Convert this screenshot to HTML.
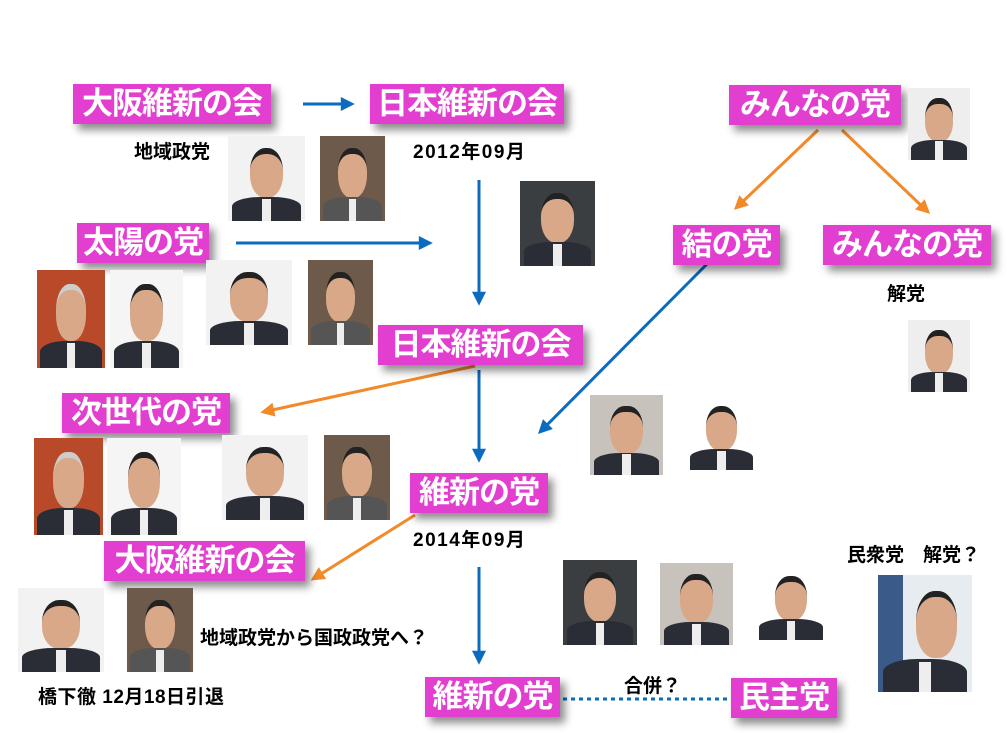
<!DOCTYPE html>
<html><head><meta charset="utf-8"><style>
body{margin:0;width:1008px;height:733px;background:#fff;position:relative;overflow:hidden;font-family:"Liberation Sans","Noto Sans CJK JP",sans-serif}
.l{position:absolute;background:#e23fd0;color:#fff;font-weight:bold;font-size:31px;line-height:40px;height:40px;text-align:center;box-shadow:5px 6px 8px rgba(0,0,0,.45);white-space:nowrap;letter-spacing:-1px}
.t{position:absolute;font-weight:bold;font-size:19px;color:#000;white-space:nowrap}
.p{position:absolute;overflow:hidden;background:#d8d4d0}
.p .h{position:absolute;left:28%;top:14%;width:44%;height:52%;border-radius:45%;background:#d9a888;border-top:6px solid #222}
.p .s{position:absolute;left:5%;right:5%;bottom:0;height:28%;border-radius:40% 40% 0 0;background:#2a2c36}
.p .c{position:absolute;left:44%;width:12%;bottom:0;height:26%;background:#eee}
svg{position:absolute;left:0;top:0}
</style></head><body>
<svg width="1008" height="733">
<defs>
<marker id="bb" viewBox="0 0 10 10" refX="8" refY="5" markerWidth="16" markerHeight="14" orient="auto" markerUnits="userSpaceOnUse"><path d="M0,0L10,5L0,10z" fill="#0a6bbf"/></marker>
<marker id="oo" viewBox="0 0 10 10" refX="8" refY="5" markerWidth="16" markerHeight="14" orient="auto" markerUnits="userSpaceOnUse"><path d="M0,0L10,5L0,10z" fill="#f28a2a"/></marker>
</defs>
<g stroke="#0a6bbf" stroke-width="3" fill="none">
<line x1="303" y1="104" x2="352" y2="104" marker-end="url(#bb)"/>
<line x1="236" y1="243" x2="430" y2="243" marker-end="url(#bb)"/>
<line x1="479" y1="180" x2="479" y2="303" marker-end="url(#bb)"/>
<line x1="479" y1="370" x2="479" y2="460" marker-end="url(#bb)"/>
<line x1="479" y1="567" x2="479" y2="662" marker-end="url(#bb)"/>
<line x1="708" y1="263" x2="540" y2="432" marker-end="url(#bb)"/>
<line x1="563" y1="699" x2="730" y2="699" stroke-dasharray="4,4"/>
</g>
<g stroke="#f28a2a" stroke-width="3" fill="none">
<line x1="818" y1="130" x2="736" y2="208" marker-end="url(#oo)"/>
<line x1="842" y1="130" x2="928" y2="212" marker-end="url(#oo)"/>
<line x1="475" y1="366" x2="263" y2="412" marker-end="url(#oo)"/>
<line x1="415" y1="515" x2="313" y2="579" marker-end="url(#oo)"/>
</g>
</svg>
<div class="l" style="left:73px;top:84px;width:198px">大阪維新の会</div>
<div class="l" style="left:370px;top:84px;width:194px">日本維新の会</div>
<div class="l" style="left:729px;top:85px;width:172px">みんなの党</div>
<div class="l" style="left:77px;top:223px;width:132px">太陽の党</div>
<div class="l" style="left:673px;top:225px;width:107px">結の党</div>
<div class="l" style="left:823px;top:225px;width:168px">みんなの党</div>
<div class="l" style="left:378px;top:325px;width:205px">日本維新の会</div>
<div class="l" style="left:62px;top:393px;width:168px">次世代の党</div>
<div class="l" style="left:410px;top:473px;width:138px">維新の党</div>
<div class="l" style="left:104px;top:541px;width:201px">大阪維新の会</div>
<div class="l" style="left:425px;top:677px;width:135px">維新の党</div>
<div class="l" style="left:731px;top:678px;width:106px">民主党</div>
<div class="t" style="left:134px;top:137px">地域政党</div>
<div class="t" style="left:413px;top:137px;letter-spacing:1.5px">2012年09月</div>
<div class="t" style="left:887px;top:279px">解党</div>
<div class="t" style="left:413px;top:525px;letter-spacing:1.5px">2014年09月</div>
<div class="t" style="left:200px;top:623px">地域政党から国政政党へ？</div>
<div class="t" style="left:38px;top:682px;letter-spacing:0.5px">橋下徹 12月18日引退</div>
<div class="t" style="left:624px;top:671px">合併？</div>
<div class="t" style="left:847px;top:540px">民衆党　解党？</div>

<div class="p" style="left:228px;top:136px;width:77px;height:85px;background:#f2f2f2"><div class="h"></div><div class="s"></div><div class="c"></div></div>
<div class="p" style="left:320px;top:136px;width:65px;height:85px;background:#6d5a4a"><div class="h"></div><div class="s" style="background:#555"></div><div class="c"></div></div>
<div class="p" style="left:520px;top:181px;width:75px;height:85px;background:#3a3e40"><div class="h"></div><div class="s"></div><div class="c"></div></div>
<div class="p" style="left:908px;top:88px;width:62px;height:72px;background:#eee"><div class="h"></div><div class="s"></div><div class="c"></div></div>
<div class="p" style="left:37px;top:270px;width:68px;height:98px;background:#b84a2a"><div class="h" style="border-top-color:#ccc"></div><div class="s"></div><div class="c"></div></div>
<div class="p" style="left:110px;top:270px;width:73px;height:98px;background:#f5f5f5"><div class="h"></div><div class="s"></div><div class="c"></div></div>
<div class="p" style="left:206px;top:260px;width:86px;height:85px;background:#f2f2f2"><div class="h"></div><div class="s"></div><div class="c"></div></div>
<div class="p" style="left:308px;top:260px;width:65px;height:85px;background:#6d5a4a"><div class="h"></div><div class="s" style="background:#555"></div><div class="c"></div></div>
<div class="p" style="left:908px;top:320px;width:62px;height:72px;background:#eee"><div class="h"></div><div class="s"></div><div class="c"></div></div>
<div class="p" style="left:590px;top:395px;width:73px;height:80px;background:#c8c2bc"><div class="h"></div><div class="s"></div><div class="c"></div></div>
<div class="p" style="left:686px;top:395px;width:71px;height:75px;background:#fff"><div class="h"></div><div class="s"></div><div class="c"></div></div>
<div class="p" style="left:34px;top:438px;width:69px;height:97px;background:#b84a2a"><div class="h" style="border-top-color:#ccc"></div><div class="s"></div><div class="c"></div></div>
<div class="p" style="left:107px;top:438px;width:74px;height:97px;background:#f5f5f5"><div class="h"></div><div class="s"></div><div class="c"></div></div>
<div class="p" style="left:222px;top:435px;width:86px;height:85px;background:#f2f2f2"><div class="h"></div><div class="s"></div><div class="c"></div></div>
<div class="p" style="left:324px;top:435px;width:66px;height:85px;background:#6d5a4a"><div class="h"></div><div class="s" style="background:#555"></div><div class="c"></div></div>
<div class="p" style="left:563px;top:560px;width:74px;height:85px;background:#3a3e40"><div class="h"></div><div class="s"></div><div class="c"></div></div>
<div class="p" style="left:660px;top:563px;width:73px;height:82px;background:#c8c2bc"><div class="h"></div><div class="s"></div><div class="c"></div></div>
<div class="p" style="left:755px;top:565px;width:72px;height:75px;background:#fff"><div class="h"></div><div class="s"></div><div class="c"></div></div>
<div class="p" style="left:878px;top:575px;width:94px;height:117px;background:#e6ecf0"><div style="position:absolute;left:0;top:0;width:25px;height:117px;background:#3a5a8a"></div><div class="h" style="left:40%"></div><div class="s"></div><div class="c"></div></div>
<div class="p" style="left:18px;top:588px;width:86px;height:84px;background:#f2f2f2"><div class="h"></div><div class="s"></div><div class="c"></div></div>
<div class="p" style="left:127px;top:588px;width:66px;height:84px;background:#6d5a4a"><div class="h"></div><div class="s" style="background:#555"></div><div class="c"></div></div>
</body></html>
